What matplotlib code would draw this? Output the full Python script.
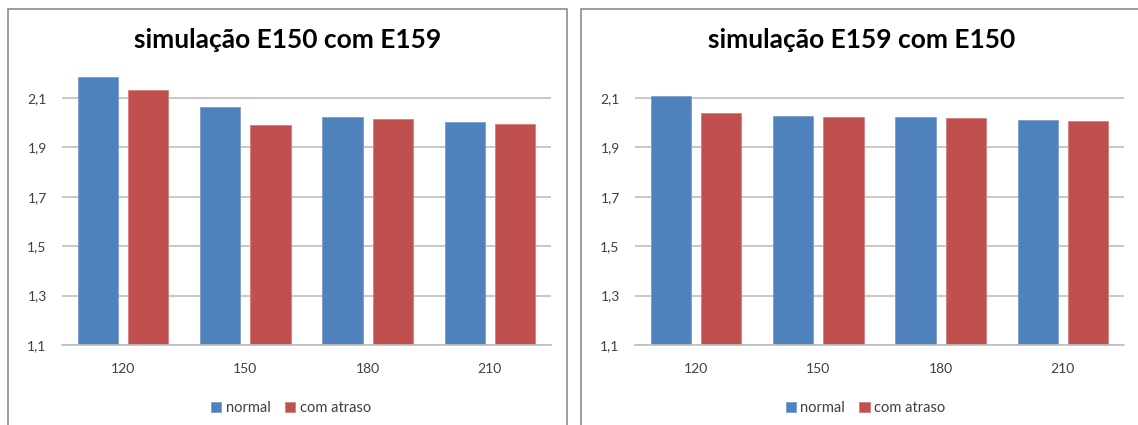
import matplotlib
matplotlib.use("Agg")
import matplotlib.pyplot as plt
from matplotlib.patches import Rectangle

# Data
categories = ["120", "150", "180", "210"]
series_names = ["normal", "com atraso"]
titles = ["simulação E150 com E159", "simulação E159 com E150"]
e150_normal = [2.187, 2.063, 2.023, 2.001]
e150_atraso = [2.132, 1.992, 2.015, 1.996]
e159_normal = [2.108, 2.028, 2.025, 2.011]
e159_atraso = [2.039, 2.023, 2.020, 2.007]
y_ticks = [1.1, 1.3, 1.5, 1.7, 1.9, 2.1]
y_tick_labels = ["1,1", "1,3", "1,5", "1,7", "1,9", "2,1"]

BLUE = "#4F81BD"
RED = "#C0504D"
GRID = "#BFBFBF"
TEXT = "#404040"
FONT = "Lato"

W, H = 1138, 425
fig = plt.figure(figsize=(W / 100, H / 100), dpi=100)
fig.patch.set_facecolor("white")


def px_rect(x0, y0, x1, y1):
    """Convert a pixel box (top-left origin) to figure fractions."""
    return [x0 / W, 1 - y1 / H, (x1 - x0) / W, (y1 - y0) / H]


# chart frames
for bx0, bx1 in [(8, 567), (581, 1141)]:
    fig.patches.append(Rectangle((bx0 / W, -0.05), (bx1 - bx0) / W, 1 - 9 / H + 0.05,
                                 transform=fig.transFigure, fill=False,
                                 edgecolor="#8C8C8C", linewidth=1.2))

panels = [
    (titles[0], e150_normal, e150_atraso, (62, 551), 287.5),
    (titles[1], e159_normal, e159_atraso, (635, 1124), 862),
]

bar_w = 0.33
offset = 0.205
for title, normal, atraso, (px0, px1), cx in panels:
    ax = fig.add_axes(px_rect(px0, 73.3, px1, 345))
    xs = list(range(len(categories)))
    b1 = ax.bar([x - offset for x in xs], normal, width=bar_w, color=BLUE,
                edgecolor="#7A9DCB", linewidth=0.6, label=series_names[0], zorder=3)
    b2 = ax.bar([x + offset for x in xs], atraso, width=bar_w, color=RED,
                edgecolor="#D27F7D", linewidth=0.6, label=series_names[1], zorder=3)
    ax.set_xlim(-0.5, len(categories) - 0.5)
    ax.set_ylim(1.1, 2.2)
    ax.set_yticks(y_ticks)
    ax.set_yticklabels(y_tick_labels, family=FONT, fontsize=10, color=TEXT)
    ax.set_xticks(xs)
    ax.set_xticklabels(categories, family=FONT, fontsize=10, color=TEXT)
    ax.tick_params(axis="y", length=0, pad=11)
    ax.tick_params(axis="x", length=0, pad=13)
    ax.grid(axis="y", color=GRID, linewidth=1.2, zorder=0)
    for s in ax.spines.values():
        s.set_visible(False)
    ax.axhline(1.1, color=GRID, linewidth=1.2, zorder=4, clip_on=False)

    fig.text(cx / W, 1 - 40 / H, title, ha="center", va="center",
             family=FONT, fontweight="bold", fontsize=19, color="black")

    fig.legend(handles=[b1, b2], labels=series_names, loc="center",
               bbox_to_anchor=(cx / W + 0.003, 1 - 408 / H), ncol=2, frameon=False,
               prop={"family": FONT, "size": 10.5}, labelcolor=TEXT,
               handlelength=0.7, handleheight=0.7, handletextpad=0.3,
               columnspacing=1.0)

fig.savefig("out.png", dpi=100, facecolor="white")
